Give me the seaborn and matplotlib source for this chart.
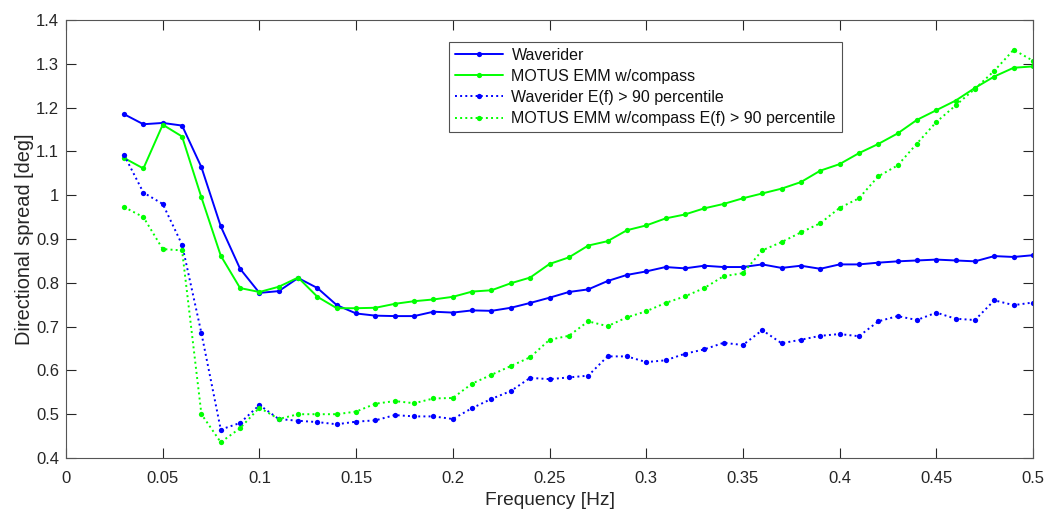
import numpy as np
import pandas as pd
import matplotlib
matplotlib.use("Agg")
import matplotlib.pyplot as plt
import seaborn as sns

# frequency bins [Hz]
freq = np.round(np.arange(0.03, 0.505, 0.01), 2)

waverider = [1.185, 1.162, 1.165, 1.159, 1.064, 0.929, 0.832, 0.777, 0.781, 0.811,
             0.788, 0.749, 0.730, 0.725, 0.724, 0.724, 0.734, 0.732, 0.737, 0.736,
             0.743, 0.754, 0.766, 0.779, 0.785, 0.804, 0.818, 0.826, 0.836, 0.833,
             0.839, 0.836, 0.836, 0.842, 0.834, 0.839, 0.832, 0.842, 0.842, 0.846,
             0.849, 0.851, 0.853, 0.851, 0.849, 0.861, 0.859, 0.863]

motus = [1.085, 1.061, 1.161, 1.134, 0.995, 0.862, 0.788, 0.779, 0.791, 0.812,
         0.768, 0.742, 0.742, 0.743, 0.752, 0.758, 0.762, 0.768, 0.780, 0.783,
         0.799, 0.812, 0.843, 0.858, 0.885, 0.895, 0.920, 0.931, 0.947, 0.956,
         0.970, 0.980, 0.993, 1.004, 1.015, 1.030, 1.056, 1.071, 1.096, 1.117,
         1.141, 1.172, 1.194, 1.216, 1.245, 1.271, 1.291, 1.294]

waverider_p90 = [1.092, 1.006, 0.980, 0.887, 0.685, 0.465, 0.480, 0.521, 0.489, 0.485,
                 0.482, 0.477, 0.483, 0.486, 0.498, 0.495, 0.495, 0.489, 0.514, 0.535,
                 0.553, 0.583, 0.580, 0.584, 0.588, 0.632, 0.632, 0.619, 0.623, 0.638,
                 0.648, 0.663, 0.658, 0.692, 0.662, 0.670, 0.679, 0.683, 0.678, 0.712,
                 0.724, 0.715, 0.732, 0.718, 0.715, 0.760, 0.749, 0.755]

motus_p90 = [0.973, 0.950, 0.877, 0.874, 0.500, 0.436, 0.468, 0.515, 0.489, 0.500,
             0.500, 0.500, 0.506, 0.524, 0.530, 0.525, 0.536, 0.537, 0.570, 0.590,
             0.610, 0.630, 0.670, 0.679, 0.712, 0.701, 0.721, 0.735, 0.754, 0.769,
             0.788, 0.815, 0.822, 0.874, 0.893, 0.915, 0.936, 0.971, 0.993, 1.043,
             1.068, 1.118, 1.167, 1.205, 1.243, 1.284, 1.332, 1.307]

xtick_labels = ['0', '0.05', '0.1', '0.15', '0.2', '0.25', '0.3', '0.35', '0.4', '0.45', '0.5']
ytick_labels = ['0.4', '0.5', '0.6', '0.7', '0.8', '0.9', '1', '1.1', '1.2', '1.3', '1.4']

series = [
    ("Waverider", waverider, "#0000ff", "-"),
    ("MOTUS EMM w/compass", motus, "#00ff00", "-"),
    ("Waverider E(f) > 90 percentile", waverider_p90, "#0000ff", ":"),
    ("MOTUS EMM w/compass E(f) > 90 percentile", motus_p90, "#00ff00", ":"),
]

sns.set_style("ticks")
plt.rcParams['font.family'] = ['Liberation Sans', 'DejaVu Sans']
axcol = '#262626'

fig, ax = plt.subplots(figsize=(10.45, 5.13), dpi=100)
fig.subplots_adjust(left=0.0632, right=0.9885, bottom=0.1072, top=0.961)

for name, vals, col, ls in series:
    df = pd.DataFrame({'freq': freq, 'spread': vals})
    sns.lineplot(data=df, x='freq', y='spread', ax=ax, color=col, linestyle=ls,
                 linewidth=1.4, marker='o', markersize=3.8, markeredgewidth=0,
                 label=name)

ax.set_xlim(0, 0.5)
ax.set_ylim(0.4, 1.4)
ax.set_xticks(np.linspace(0, 0.5, len(xtick_labels)))
ax.set_xticklabels(xtick_labels)
ax.set_yticks(np.linspace(0.4, 1.4, len(ytick_labels)))
ax.set_yticklabels(ytick_labels)
ax.tick_params(direction='in', top=True, right=True, length=7, width=0.8,
               color=axcol, labelcolor=axcol, labelsize=12)
ax.tick_params(axis='x', pad=9)
ax.tick_params(axis='y', pad=5)
for sp in ax.spines.values():
    sp.set_visible(True)
    sp.set_color('#555555')
    sp.set_linewidth(0.8)

ax.set_xlabel('Frequency [Hz]', fontsize=13.8, color=axcol, labelpad=5)
ax.set_ylabel('Directional spread [deg]', fontsize=14.4, color=axcol, labelpad=1.5)

leg = ax.legend(loc='upper left', bbox_to_anchor=(0.3961, 0.9498), fontsize=11.5,
                frameon=True, fancybox=False, borderpad=0.35, labelspacing=0.39,
                handlelength=3.0, handletextpad=0.56, borderaxespad=0)
leg.get_frame().set_edgecolor(axcol)
leg.get_frame().set_linewidth(0.8)
for t in leg.get_texts():
    t.set_color('#111111')

fig.savefig('out.png', dpi=100)
